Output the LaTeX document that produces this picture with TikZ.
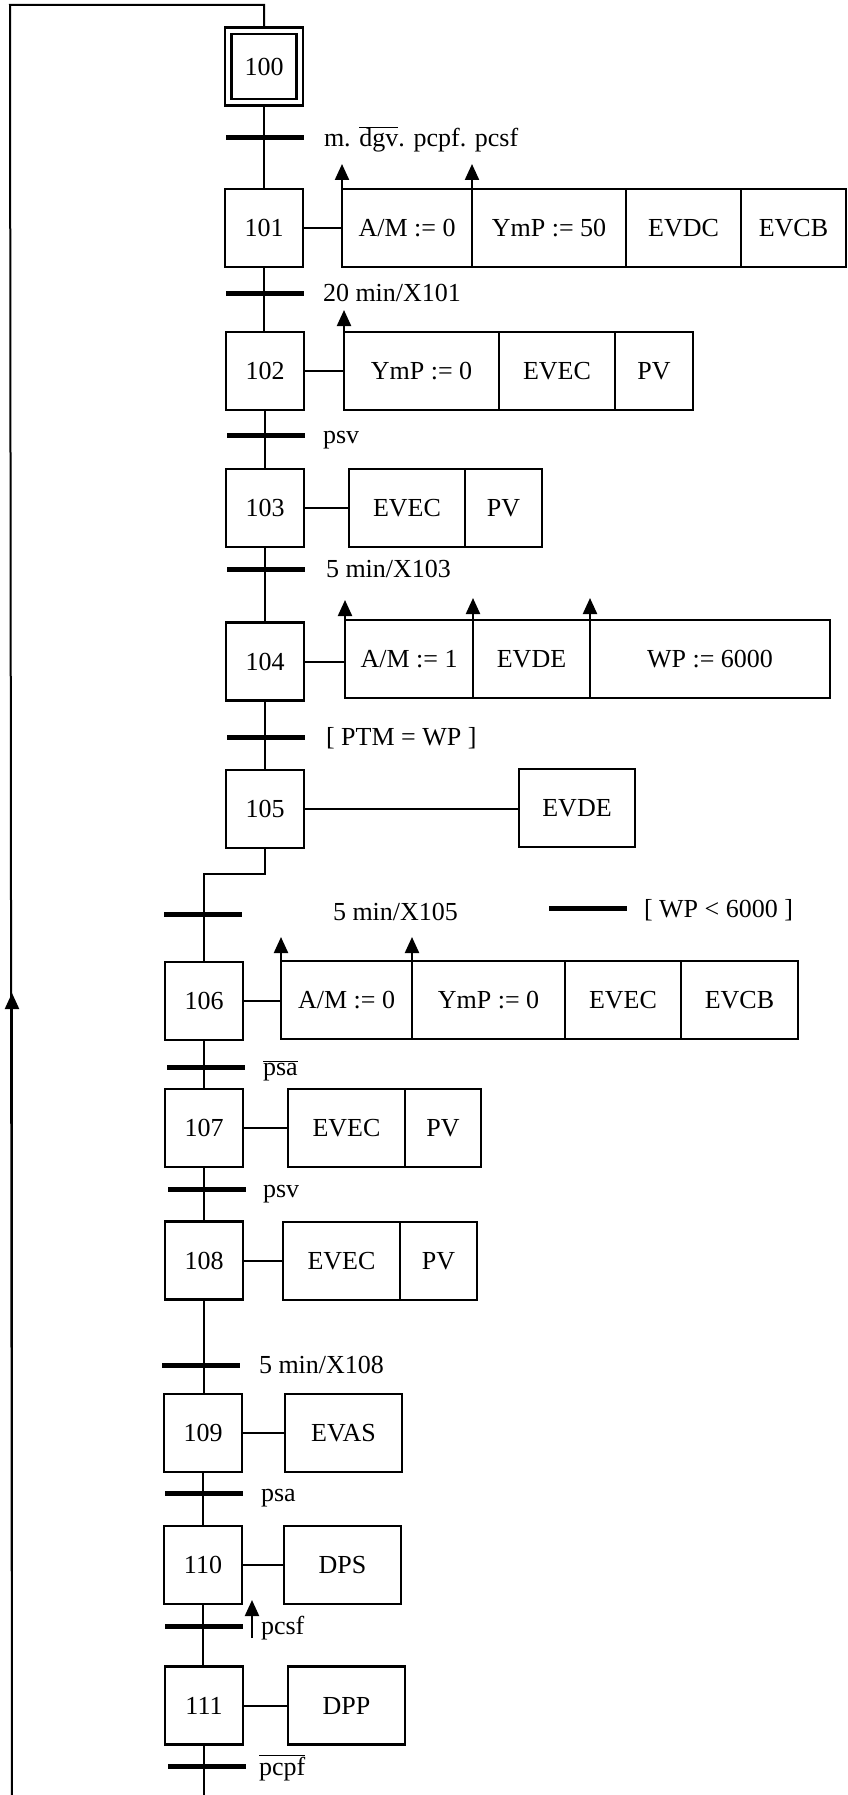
\documentclass[tikz,border=0pt]{standalone}
\usepackage{fontspec}
\setmainfont{Liberation Serif}
\usetikzlibrary{arrows.meta}
\begin{document}
\begin{tikzpicture}[x=1pt,y=-1pt,
  every node/.style={font=\fontsize{26}{30}\selectfont, inner sep=0pt, outer sep=0pt},
  stepbox/.style={draw, line width=2.2pt, minimum width=78pt, minimum height=78pt},
  act/.style={draw, line width=2.2pt, minimum height=78pt, anchor=west},
  trans/.style={fill=black, minimum width=78pt, minimum height=5pt},
  lbl/.style={anchor=base west},
  link/.style={line width=2pt},
  sig/.style={line width=2.2pt, -{Triangle[width=14pt,length=16pt]}}
]
\useasboundingbox[fill=white] (0,0) rectangle (848,1795);

% steps
\node[stepbox] (s100) at (264,66.5) {100};
\draw[line width=2.2pt] ([shift={(6.5,6.5)}]s100.north west) rectangle ([shift={(-6.5,-6.5)}]s100.south east);
\node[stepbox] (s101) at (264,228) {101};
\node[stepbox] (s102) at (265,371) {102};
\node[stepbox] (s103) at (265,508) {103};
\node[stepbox] (s104) at (265,661.5) {104};
\node[stepbox] (s105) at (265,809) {105};
\node[stepbox] (s106) at (204,1001) {106};
\node[stepbox] (s107) at (204,1128) {107};
\node[stepbox] (s108) at (204,1260.5) {108};
\node[stepbox] (s109) at (203,1433) {109};
\node[stepbox] (s110) at (203,1565) {110};
\node[stepbox] (s111) at (204,1705.5) {111};

% coordinates
\coordinate (lt) at (264,5);
\coordinate (ltl) at (10,5);
\coordinate (lb) at (12,1795);
\coordinate (la) at (12,993);
\coordinate (bot) at (204,1795);
\coordinate (pa) at (252,1638);

% links between steps
\draw[link] (s100.north) -- (lt) -- (ltl) -- (lb);
\draw[sig] (lb) -- (la);
\draw[link] (s100) -- (s101);
\draw[link] (s101.south) -- (s102.north-|s101.south);
\draw[link] (s102) -- (s103);
\draw[link] (s103) -- (s104);
\draw[link] (s104) -- (s105);
\draw[link] (s105.south) -- ++(0,26) -| (s106.north);
\draw[link] (s106) -- (s107);
\draw[link] (s107) -- (s108);
\draw[link] (s108.south) -- (s109.north-|s108.south);
\draw[link] (s109) -- (s110);
\draw[link] (s110.south) -- (s111.north-|s110.south);
\draw[link] (s111.south) -- (bot);

% transitions
\node[trans] (t1) at (264.5,138) {};
\node[trans] (t2) at (265,293) {};
\node[trans] (t3) at (266,435) {};
\node[trans] (t4) at (266,569) {};
\node[trans] (t5) at (266,737) {};
\node[trans] (t6) at (203,914) {};
\node[trans] (t6b) at (588,908) {};
\node[trans] (t7) at (206,1067) {};
\node[trans] (t8) at (207,1189) {};
\node[trans] (t9) at (201,1365) {};
\node[trans] (t10) at (204,1493) {};
\node[trans] (t11) at (204,1626) {};
\node[trans] (t12) at (207,1766) {};

% receptivities
\node[lbl] (c1) at (324,147) {m. $\overline{\mbox{dgv}}$. pcpf. pcsf};
\node[lbl] (c2) at (323,301) {20 min/X101};
\node[lbl] (c3) at (323,443) {psv};
\node[lbl] (c4) at (326,577) {5 min/X103};
\node[lbl] (c5) at (326,745) {[ PTM = WP ]};
\node[lbl] (c6) at (333,920) {5 min/X105};
\node[lbl] (c6b) at (644,917) {[ WP < 6000 ]};
\node[lbl] (c7) at (263,1075) {$\overline{\mbox{psa}}$};
\node[lbl] (c8) at (263,1197) {psv};
\node[lbl] (c9) at (259,1373) {5 min/X108};
\node[lbl] (c10) at (261,1501) {psa};
\node[lbl] (c11) at (261,1634) {pcsf};
\node[lbl] (c12) at (259,1775) {$\overline{\mbox{pcpf}}$};
\draw[sig] (pa) -- ++(0,-38);

% actions 101
\node[act, minimum width=130pt] (a1a) at (342,228) {A/M := 0};
\node[act, minimum width=154pt] (a1b) at (a1a.east) {YmP := 50};
\node[act, minimum width=115pt] (a1c) at (a1b.east) {EVDC};
\node[act, minimum width=105pt] (a1d) at (a1c.east) {EVCB};
\draw[link] (s101.east) -- (a1a.west);
\draw[sig] (a1a.north west) -- ++(0,-25);
\draw[sig] (a1b.north west) -- ++(0,-25);

% actions 102
\node[act, minimum width=155pt] (a2a) at (344,371) {YmP := 0};
\node[act, minimum width=116pt] (a2b) at (a2a.east) {EVEC};
\node[act, minimum width=78pt] (a2c) at (a2b.east) {PV};
\draw[link] (s102.east) -- (a2a.west);
\draw[sig] (a2a.north west) -- ++(0,-22);

% actions 103
\node[act, minimum width=116pt] (a3a) at (349,508) {EVEC};
\node[act, minimum width=77pt] (a3b) at (a3a.east) {PV};
\draw[link] (s103.east) -- (a3a.west);

% actions 104
\node[act, minimum width=128pt] (a4a) at (345,659) {A/M := 1};
\node[act, minimum width=117pt] (a4b) at (a4a.east) {EVDE};
\node[act, minimum width=240pt] (a4c) at (a4b.east) {WP := 6000};
\draw[link] (s104.east) -- (s104.east-|a4a.west);
\draw[sig] (a4a.north west) -- ++(0,-20);
\draw[sig] (a4b.north west) -- ++(0,-22);
\draw[sig] (a4c.north west) -- ++(0,-22);

% actions 105
\node[act, minimum width=116pt] (a5a) at (519,808) {EVDE};
\draw[link] (s105.east) -- (s105.east-|a5a.west);

% actions 106
\node[act, minimum width=131pt] (a6a) at (281,1000) {A/M := 0};
\node[act, minimum width=153pt] (a6b) at (a6a.east) {YmP := 0};
\node[act, minimum width=116pt] (a6c) at (a6b.east) {EVEC};
\node[act, minimum width=117pt] (a6d) at (a6c.east) {EVCB};
\draw[link] (s106.east) -- (s106.east-|a6a.west);
\draw[sig] (a6a.north west) -- ++(0,-24);
\draw[sig] (a6b.north west) -- ++(0,-24);

% actions 107
\node[act, minimum width=117pt] (a7a) at (288,1128) {EVEC};
\node[act, minimum width=76pt] (a7b) at (a7a.east) {PV};
\draw[link] (s107.east) -- (a7a.west);

% actions 108
\node[act, minimum width=117pt] (a8a) at (283,1261) {EVEC};
\node[act, minimum width=77pt] (a8b) at (a8a.east) {PV};
\draw[link] (s108.east) -- (s108.east-|a8a.west);

% actions 109-111
\node[act, minimum width=117pt] (a9a) at (285,1433) {EVAS};
\draw[link] (s109.east) -- (a9a.west);
\node[act, minimum width=117pt] (a10a) at (284,1565) {DPS};
\draw[link] (s110.east) -- (a10a.west);
\node[act, minimum width=117pt] (a11a) at (288,1705.5) {DPP};
\draw[link] (s111.east) -- (a11a.west);
\end{tikzpicture}
\end{document}
